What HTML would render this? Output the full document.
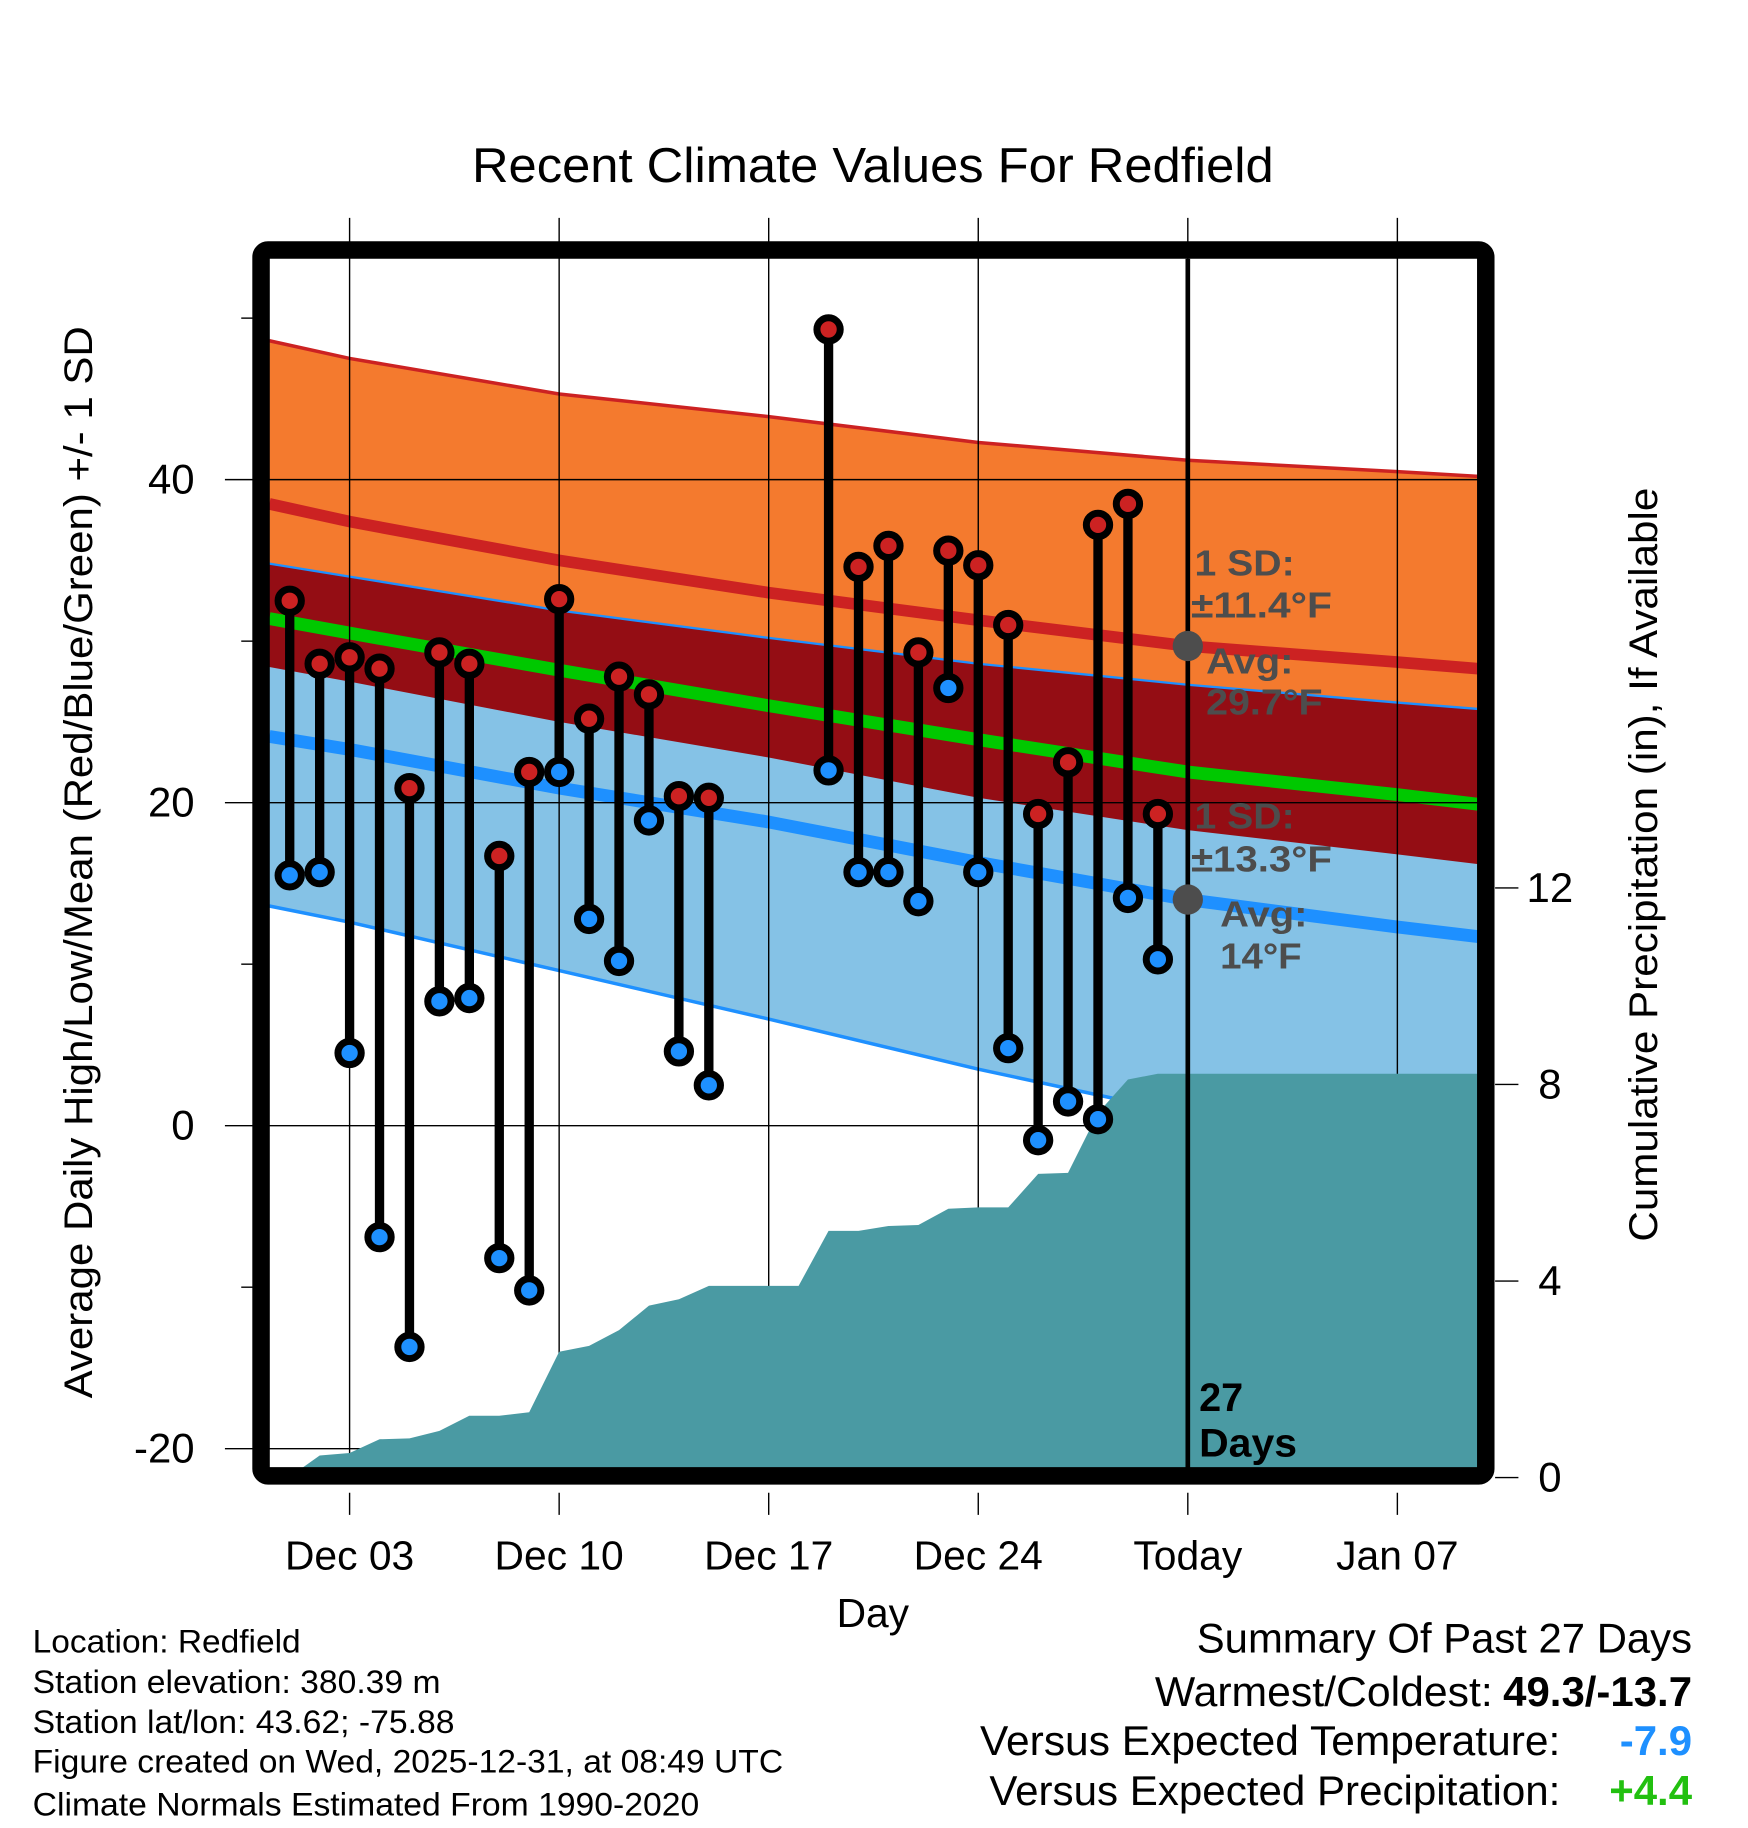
<!DOCTYPE html>
<html><head><meta charset="utf-8"><style>
html,body{margin:0;padding:0;background:#fff;}
svg{display:block;font-family:"Liberation Sans",Arial,sans-serif;}
</style></head><body>
<svg id="chart" width="1748" height="1828" viewBox="0 0 1500 1568.7" xmlns="http://www.w3.org/2000/svg">
<g id="bands"></g>
<g id="grid"></g>
<g id="precip"></g>
<g id="marks"></g>
<g id="frame"></g>
<g id="axes"></g>
<text x="405" y="156" font-size="42" textLength="688" lengthAdjust="spacingAndGlyphs">Recent Climate Values For Redfield</text>
<text transform="translate(79,740) rotate(-90)" font-size="34" text-anchor="middle" textLength="920" lengthAdjust="spacingAndGlyphs">Average Daily High/Low/Mean (Red/Blue/Green) +/- 1 SD</text>
<text transform="translate(1422,742) rotate(-90)" font-size="34" text-anchor="middle" textLength="647" lengthAdjust="spacingAndGlyphs">Cumulative Precipitation (in), If Available</text>
<text x="749" y="1396" font-size="35" text-anchor="middle">Day</text>
<g fill="#4d4d4d" font-weight="bold" font-size="31">
<text x="1025" y="494" textLength="86" lengthAdjust="spacingAndGlyphs">1 SD:</text><text x="1022" y="530" textLength="121" lengthAdjust="spacingAndGlyphs">±11.4°F</text>
<text x="1035" y="578" textLength="75" lengthAdjust="spacingAndGlyphs">Avg:</text><text x="1035" y="613" textLength="100" lengthAdjust="spacingAndGlyphs">29.7°F</text>
<text x="1025" y="711" textLength="86" lengthAdjust="spacingAndGlyphs">1 SD:</text><text x="1022" y="748" textLength="121" lengthAdjust="spacingAndGlyphs">±13.3°F</text>
<text x="1047" y="795" textLength="75" lengthAdjust="spacingAndGlyphs">Avg:</text><text x="1047" y="831" textLength="70" lengthAdjust="spacingAndGlyphs">14°F</text>
</g>
<g font-weight="bold" font-size="34">
<text x="1029" y="1211">27</text><text x="1029" y="1250" textLength="84" lengthAdjust="spacingAndGlyphs">Days</text></g>
<g font-size="28">
<text x="28" y="1418" textLength="230" lengthAdjust="spacingAndGlyphs">Location: Redfield</text>
<text x="28" y="1453" textLength="350" lengthAdjust="spacingAndGlyphs">Station elevation: 380.39 m</text>
<text x="28" y="1487" textLength="362" lengthAdjust="spacingAndGlyphs">Station lat/lon: 43.62; -75.88</text>
<text x="28" y="1521" textLength="644" lengthAdjust="spacingAndGlyphs">Figure created on Wed, 2025-12-31, at 08:49 UTC</text>
<text x="28" y="1558" textLength="572" lengthAdjust="spacingAndGlyphs">Climate Normals Estimated From 1990-2020</text>
</g>
<g font-size="36">
<text x="1027" y="1418" textLength="425" lengthAdjust="spacingAndGlyphs">Summary Of Past 27 Days</text>
<text x="991" y="1464" textLength="290" lengthAdjust="spacingAndGlyphs">Warmest/Coldest:</text>
<text x="1452" y="1464" font-weight="bold" text-anchor="end">49.3/-13.7</text>
<text x="841" y="1506" textLength="498" lengthAdjust="spacingAndGlyphs">Versus Expected Temperature:</text>
<text x="1452" y="1506" font-weight="bold" fill="#1e90ff" text-anchor="end">-7.9</text>
<text x="849" y="1549" textLength="490" lengthAdjust="spacingAndGlyphs">Versus Expected Precipitation:</text>
<text x="1452" y="1549" font-weight="bold" fill="#22c010" text-anchor="end">+4.4</text>
</g>
</svg>
<script>
// data (day index 0 = Dec 01)
const days = [0,1,2,3,4,5,6,7,8,9,10,11,12,13,14,18,19,20,21,22,23,24,25,26,27,28,29];
const highs = [32.5,28.6,29.0,28.3,20.9,29.3,28.6,16.7,21.9,32.6,25.2,27.8,26.7,20.4,20.3,49.3,34.6,35.9,29.3,35.6,34.7,31.0,19.3,22.5,37.2,38.5,19.3];
const lows = [15.5,15.7,4.5,-6.9,-13.7,7.7,7.9,-8.2,-10.2,21.9,12.8,10.2,18.9,4.6,2.5,22.0,15.7,15.7,13.9,27.1,15.7,4.8,-0.9,1.5,0.4,14.1,10.3];
const precipDays = [0.4,1,2,3,4,5,6,7,8,9,10,11,12,13,14,15,16,17,18,19,20,21,22,23,24,25,26,27,28,29,30,39.7];
const precipVals = [0,0.45,0.5,0.78,0.8,0.95,1.26,1.26,1.33,2.56,2.68,3.0,3.5,3.63,3.9,3.9,3.9,3.9,5.02,5.02,5.12,5.14,5.47,5.5,5.5,6.18,6.2,7.42,8.1,8.22,8.22,8.22];
const normDays = [-0.68,2,9,16,23,30,37,39.7];
const highPlusSD = [48.6,47.5,45.3,43.9,42.3,41.2,40.5,40.2];
const avgHigh = [38.5,37.4,35.0,33.0,31.3,29.7,28.7,28.3];
const highMinusSD = [28.4,27.5,25.0,22.8,20.3,18.3,16.8,16.2];
const lowPlusSD = [34.8,34.0,31.9,30.2,28.6,27.3,26.2,25.8];
const avgMean = [31.4,30.5,28.2,26.0,23.9,21.9,20.5,19.9];
const avgLow = [24.1,23.3,20.9,18.8,16.3,14.0,12.3,11.7];
const lowMinusSD = [13.6,12.6,9.6,6.6,3.5,0.7,-1.0,-1.5];
const yTicks = [-20,0,20,40];
const y2Ticks = [0,4,8,12];
const xTickDays = [2,9,16,23,30,37];
const xTickLabels = ["Dec 03","Dec 10","Dec 17","Dec 24","Today","Jan 07"];

const NS="http://www.w3.org/2000/svg";
const L=231,R=1268,T=222,B=1260;
const X=d=>248.6+25.69*d;
const Y=v=>966-13.86*v;
const Y2=p=>1268-42.17*p;
function mk(tag,attrs,parent){const e=document.createElementNS(NS,tag);for(const k in attrs)e.setAttribute(k,attrs[k]);parent.appendChild(e);return e;}
const g=id=>document.getElementById(id);
const pts=(arr)=>arr.map((v,i)=>X(normDays[i]).toFixed(1)+","+Y(v).toFixed(1));
function band(top,bot,fill,name){
  const p=mk('polygon',{points:pts(top).concat(pts(bot).reverse()).join(' '),fill:fill},g('bands'));
  
  
}
function line(arr,color,w,name){
  const p=mk('polyline',{points:pts(arr).join(' '),fill:'none',stroke:color,'stroke-width':w},g('bands'));
  
  
}
band(highPlusSD,highMinusSD,'#f47a2e','high-sd-band');
band(lowPlusSD,lowMinusSD,'#85c2e6','low-sd-band');
band(lowPlusSD,highMinusSD,'#940d14','overlap-band');
line(highPlusSD,'#cc2222',3,'high-plus-sd-line');
line(lowPlusSD,'#1e90ff',2,'low-plus-sd-line');
line(lowMinusSD,'#1e90ff',3,'low-minus-sd-line');
line(avgHigh,'#cc2222',10,'avg-high-line');
line(avgMean,'#00c800',11,'avg-mean-line');
line(avgLow,'#1e90ff',11,'avg-low-line');
xTickDays.forEach(d=>{
  const l=mk('line',{x1:X(d),x2:X(d),y1:187,y2:B,stroke:'#000','stroke-width':1.2},g('grid'));
  
  
});
yTicks.forEach(v=>{
  const l=mk('line',{x1:193,x2:R,y1:Y(v),y2:Y(v),stroke:'#000','stroke-width':1.2},g('grid'));
  
  
});
const pp=precipDays.map((d,i)=>X(d).toFixed(1)+","+Math.min(B,Y2(precipVals[i])).toFixed(1));
const pa=mk('polygon',{points:[X(precipDays[0]).toFixed(1)+","+B].concat(pp).concat([R+","+B]).join(' '),fill:'#4a9aa3'},g('precip'));


const tl=mk('line',{x1:X(30),x2:X(30),y1:T,y2:B,stroke:'#000','stroke-width':4},g('marks'));


const c1=mk('circle',{cx:X(30),cy:Y(29.7),r:13,fill:'#4d4d4d'},g('marks'));


const c2=mk('circle',{cx:X(30),cy:Y(14),r:13,fill:'#4d4d4d'},g('marks'));


days.forEach((d,i)=>{
  const s=mk('line',{x1:X(d),x2:X(d),y1:Y(highs[i]),y2:Y(lows[i]),stroke:'#000','stroke-width':8},g('marks'));
  
  
});
days.forEach((d,i)=>{
  const h=mk('circle',{cx:X(d),cy:Y(highs[i]),r:10,fill:'#cc2222',stroke:'#000','stroke-width':6},g('marks'));
  
  
  const lo=mk('circle',{cx:X(d),cy:Y(lows[i]),r:10,fill:'#1e90ff',stroke:'#000','stroke-width':6},g('marks'));
  
  
});
const fr=mk('rect',{x:224,y:214.5,width:1051,height:1052,rx:6,fill:'none',stroke:'#000','stroke-width':15},g('frame'));


yTicks.forEach(v=>{
  const t=mk('text',{x:167,y:Y(v)+12,'font-size':36,'text-anchor':'end'},g('axes'));
  t.textContent=v;
  
  
});
[-10,10,30,50].forEach(v=>{
  const l=mk('line',{x1:207,x2:217,y1:Y(v),y2:Y(v),stroke:'#000','stroke-width':1.2},g('axes'));
  
  
});
y2Ticks.forEach(p=>{
  const l=mk('line',{x1:1283,x2:1303,y1:Y2(p),y2:Y2(p),stroke:'#000','stroke-width':1.2},g('axes'));
  
  
  const t=mk('text',{x:1330,y:Y2(p)+12,'font-size':36,'text-anchor':'middle'},g('axes'));
  t.textContent=p;
  
  
});
xTickDays.forEach((d,i)=>{
  const l=mk('line',{x1:X(d),x2:X(d),y1:1281,y2:1300,stroke:'#000','stroke-width':1.2},g('axes'));
  
  
  const t=mk('text',{x:X(d),y:1347,'font-size':35,'text-anchor':'middle'},g('axes'));
  t.textContent=xTickLabels[i];
  
  
});
</script>
</body></html>
